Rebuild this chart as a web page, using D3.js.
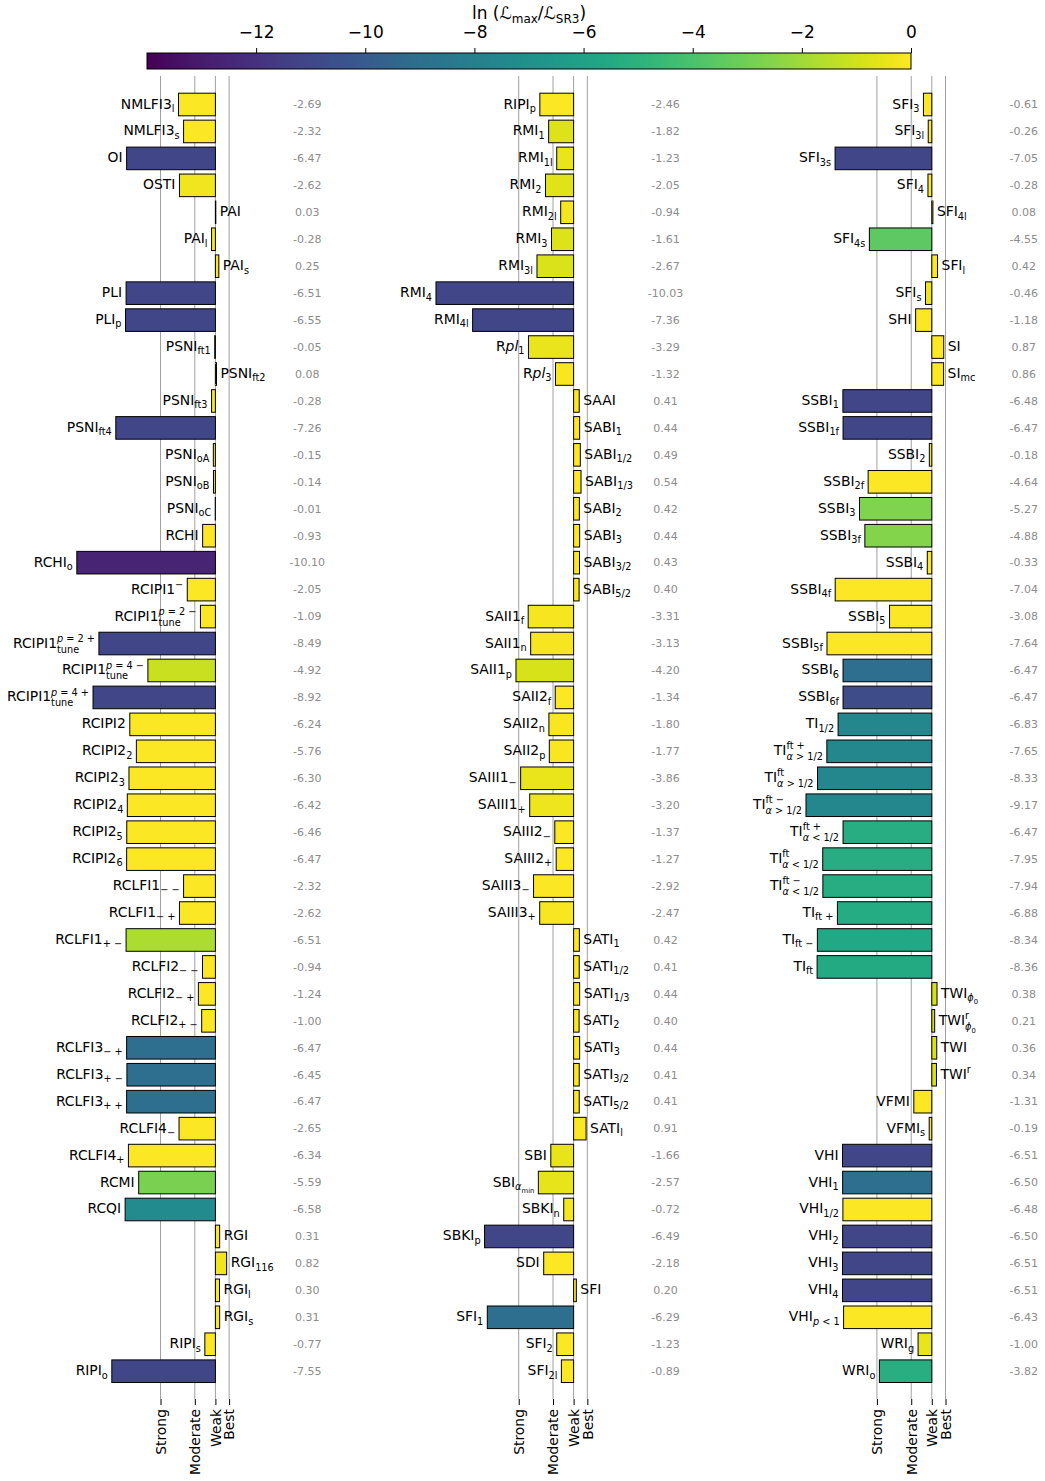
<!DOCTYPE html>
<html lang="en">
<head>
<meta charset="utf-8">
<script src="https://d3js.org/d3.v7.min.js"></script>
<style>
  body { margin: 0; background: #fff; }
  text { font-family: "DejaVu Sans", sans-serif; white-space: pre; }
</style>
</head>
<body>
<script>
// label markup: base_sub^sup, *...* = italic, ~ = smaller sub-subscript
const names1 = ["NMLFI3_l", "NMLFI3_s", "OI", "OSTI", "PAI", "PAI_l", "PAI_s", "PLI", "PLI_p",
  "PSNI_ft1", "PSNI_ft2", "PSNI_ft3", "PSNI_ft4", "PSNI_oA", "PSNI_oB", "PSNI_oC", "RCHI", "RCHI_o",
  "RCIPI1^−", "RCIPI1_tune^*p* = 2 −", "RCIPI1_tune^*p* = 2 +", "RCIPI1_tune^*p* = 4 −", "RCIPI1_tune^*p* = 4 +",
  "RCIPI2", "RCIPI2_2", "RCIPI2_3", "RCIPI2_4", "RCIPI2_5", "RCIPI2_6",
  "RCLFI1_− −", "RCLFI1_− +", "RCLFI1_+ −", "RCLFI2_− −", "RCLFI2_− +", "RCLFI2_+ −",
  "RCLFI3_− +", "RCLFI3_+ −", "RCLFI3_+ +", "RCLFI4_−", "RCLFI4_+", "RCMI", "RCQI",
  "RGI", "RGI_116", "RGI_l", "RGI_s", "RIPI_s", "RIPI_o"];
const values1 = [-2.69, -2.32, -6.47, -2.62, 0.03, -0.28, 0.25, -6.51, -6.55,
  -0.05, 0.08, -0.28, -7.26, -0.15, -0.14, -0.01, -0.93, -10.10,
  -2.05, -1.09, -8.49, -4.92, -8.92,
  -6.24, -5.76, -6.30, -6.42, -6.46, -6.47,
  -2.32, -2.62, -6.51, -0.94, -1.24, -1.00,
  -6.47, -6.45, -6.47, -2.65, -6.34, -5.59, -6.58,
  0.31, 0.82, 0.30, 0.31, -0.77, -7.55];
const lnL1 = [-0.1, -0.1, -11.1, -0.3, -0.1, -0.1, -0.1, -11.1, -11.1,
  -0.1, -0.1, -0.1, -11.1, -0.1, -0.1, -0.1, -0.1, -12.6,
  -0.1, -0.1, -11.1, -1.15, -11.1,
  -0.1, -0.1, -0.1, -0.1, -0.1, -0.1,
  -0.1, -0.1, -1.7, -0.1, -0.1, -0.1,
  -9.0, -9.0, -9.0, -0.1, -0.1, -2.8, -7.3,
  -0.1, -0.3, -0.1, -0.1, -0.1, -11.1];

const names2 = ["RIPI_p", "RMI_1", "RMI_1l", "RMI_2", "RMI_2l", "RMI_3", "RMI_3l", "RMI_4", "RMI_4l",
  "R*pl*_1", "R*pl*_3", "SAAI", "SABI_1", "SABI_1/2", "SABI_1/3", "SABI_2", "SABI_3", "SABI_3/2", "SABI_5/2",
  "SAII1_f", "SAII1_n", "SAII1_p", "SAII2_f", "SAII2_n", "SAII2_p",
  "SAIII1_−", "SAIII1_+", "SAIII2_−", "SAIII2_+", "SAIII3_−", "SAIII3_+",
  "SATI_1", "SATI_1/2", "SATI_1/3", "SATI_2", "SATI_3", "SATI_3/2", "SATI_5/2", "SATI_l",
  "SBI", "SBI_*α*~min", "SBKI_n", "SBKI_p", "SDI", "SFI", "SFI_1", "SFI_2", "SFI_2l"];
const values2 = [-2.46, -1.82, -1.23, -2.05, -0.94, -1.61, -2.67, -10.03, -7.36,
  -3.29, -1.32, 0.41, 0.44, 0.49, 0.54, 0.42, 0.44, 0.43, 0.40,
  -3.31, -3.13, -4.20, -1.34, -1.80, -1.77,
  -3.86, -3.20, -1.37, -1.27, -2.92, -2.47,
  0.42, 0.41, 0.44, 0.40, 0.44, 0.41, 0.41, 0.91,
  -1.66, -2.57, -0.72, -6.49, -2.18, 0.20, -6.29, -1.23, -0.89];
const lnL2 = [-0.1, -0.75, -0.45, -0.7, -0.2, -0.75, -0.8, -11.1, -11.1,
  -0.45, -0.15, -0.1, -0.1, -0.1, -0.1, -0.1, -0.1, -0.1, -0.1,
  -0.2, -0.2, -0.85, -0.1, -0.15, -0.15,
  -0.45, -0.35, -0.1, -0.1, -0.1, -0.15,
  -0.1, -0.1, -0.1, -0.1, -0.1, -0.1, -0.1, -0.1,
  -0.5, -0.5, -0.2, -11.1, -0.1, -0.1, -9.0, -0.1, -0.1];

const names3 = ["SFI_3", "SFI_3l", "SFI_3s", "SFI_4", "SFI_4l", "SFI_4s", "SFI_l", "SFI_s", "SHI", "SI", "SI_mc",
  "SSBI_1", "SSBI_1f", "SSBI_2", "SSBI_2f", "SSBI_3", "SSBI_3f", "SSBI_4", "SSBI_4f", "SSBI_5", "SSBI_5f", "SSBI_6", "SSBI_6f",
  "TI_1/2", "TI_*α* > 1/2^ft +", "TI_*α* > 1/2^ft", "TI_*α* > 1/2^ft −",
  "TI_*α* < 1/2^ft +", "TI_*α* < 1/2^ft", "TI_*α* < 1/2^ft −", "TI_ft +", "TI_ft −", "TI_ft",
  "TWI_*ϕ*~0", "TWI_*ϕ*~0^r", "TWI", "TWI^r", "VFMI", "VFMI_s",
  "VHI", "VHI_1", "VHI_1/2", "VHI_2", "VHI_3", "VHI_4", "VHI_*p* < 1", "WRI_g", "WRI_o"];
const values3 = [-0.61, -0.26, -7.05, -0.28, 0.08, -4.55, 0.42, -0.46, -1.18, 0.87, 0.86,
  -6.48, -6.47, -0.18, -4.64, -5.27, -4.88, -0.33, -7.04, -3.08, -7.64, -6.47, -6.47,
  -6.83, -7.65, -8.33, -9.17,
  -6.47, -7.95, -7.94, -6.88, -8.34, -8.36,
  0.38, 0.21, 0.36, 0.34, -1.31, -0.19,
  -6.51, -6.50, -6.48, -6.50, -6.51, -6.51, -6.43, -1.00, -3.82];
const lnL3 = [-0.1, -0.1, -11.1, -0.1, -0.1, -3.5, -0.1, -0.4, -0.1, -0.1, -0.1,
  -11.1, -11.1, -0.1, -0.1, -2.7, -2.6, -0.1, -0.1, -0.1, -0.1, -9.0, -10.8,
  -7.5, -7.5, -7.5, -7.5,
  -5.3, -5.3, -5.3, -5.4, -5.6, -5.5,
  -0.85, -1.0, -0.9, -0.85, -0.1, -0.1,
  -11.1, -9.0, -0.1, -11.1, -11.1, -11.1, -0.1, -0.45, -5.2];

const colourTicks = [-12, -10, -8, -6, -4, -2, 0];
const evidenceTicks = [-4, -1.5, 0, 1];
const evidenceLabels = ["Strong", "Moderate", "Weak", "Best"];

const W = 1045, H = 1481;
const svg = d3.select("body").append("svg").attr("width", W).attr("height", H);

const colour = d3.scaleSequential(d3.interpolateViridis).domain([-14, 0]);
const rowY = d3.scalePoint().domain(d3.range(48)).range([104.5, 1371.2]);
const barH = 22.6;
const fs = 13.9;

// rich text: *..* italic, text after ~ is a smaller lowered index
function rich(t, str, size) {
  const parts = str.split("~");
  parts[0].split("*").forEach((seg, k) => {
    if (seg) t.append("tspan").attr("font-style", k % 2 ? "italic" : "normal").text(seg);
  });
  if (parts[1]) t.append("tspan").attr("font-size", size * 0.7).attr("dy", size * 0.3).text(parts[1]);
}

function addLabel(g, spec, size) {
  const m = spec.match(/^([^_^]*)(?:_([^^]*))?(?:\^(.*))?$/);
  const base = g.append("text").attr("font-size", size);
  rich(base, m[1], size);
  const wb = base.node().getComputedTextLength();
  let w = wb;
  const small = size * 0.7;
  const both = m[2] && m[3];
  if (m[2]) {
    const t = g.append("text").attr("x", wb).attr("y", both ? size * 0.36 : size * 0.24).attr("font-size", small);
    rich(t, m[2], small);
    w = Math.max(w, wb + t.node().getComputedTextLength());
  }
  if (m[3]) {
    const t = g.append("text").attr("x", wb).attr("y", -size * 0.42).attr("font-size", small);
    rich(t, m[3], small);
    w = Math.max(w, wb + t.node().getComputedTextLength());
  }
  return w;
}

// colour bar
const cx = d3.scaleLinear().domain([-14, 0]).range([147, 911]);
const grad = svg.append("defs").append("linearGradient").attr("id", "viridis");
grad.selectAll("stop").data(d3.range(0, 1.0001, 0.02)).join("stop")
  .attr("offset", d => d).attr("stop-color", d => d3.interpolateViridis(d));
svg.append("rect").attr("x", cx(-14)).attr("y", 53).attr("width", cx(0) - cx(-14)).attr("height", 16)
  .attr("fill", "url(#viridis)").attr("stroke", "#000").attr("stroke-width", 1);
const cax = svg.append("g").attr("transform", "translate(0,53)")
  .call(d3.axisTop(cx).tickValues(colourTicks).tickSize(5).tickPadding(10));
cax.select(".domain").remove();
cax.selectAll("text").attr("font-size", 17).attr("font-family", "DejaVu Sans").attr("fill", "#000");
cax.selectAll("line").attr("stroke", "#000");

const title = svg.append("text").attr("x", 529).attr("y", 19).attr("text-anchor", "middle").attr("font-size", 17);
title.append("tspan").text("ln (");
title.append("tspan").attr("font-style", "italic").text("ℒ");
title.append("tspan").attr("font-size", 12).attr("dy", 4).text("max");
title.append("tspan").attr("dy", -4).text("/");
title.append("tspan").attr("font-style", "italic").text("ℒ");
title.append("tspan").attr("font-size", 12).attr("dy", 4).text("SR3");
title.append("tspan").attr("dy", -4).text(")");

function drawPanel(names, vals, lnL, zero) {
  const x = d3.scaleLinear().domain([-10, 5]).range([zero - 137.2, zero + 68.6]);
  const rows = names.map((n, i) => ({ n, v: vals[i], c: lnL[i], i }));
  const g = svg.append("g");

  g.selectAll("line.guide").data(evidenceTicks).join("line").attr("class", "guide")
    .attr("x1", d => x(d)).attr("x2", d => x(d)).attr("y1", 76).attr("y2", 1399)
    .attr("stroke", "#a0a0a0").attr("stroke-width", 1);

  const ax = g.append("g").attr("transform", "translate(0,1399)")
    .call(d3.axisBottom(x).tickValues(evidenceTicks).tickFormat((d, i) => evidenceLabels[i]).tickSize(6));
  ax.select(".domain").remove();
  ax.selectAll("line").attr("stroke", "#000");
  ax.selectAll("text").attr("font-size", fs).attr("font-family", "DejaVu Sans").attr("fill", "#000")
    .attr("text-anchor", "end").attr("transform", "rotate(-90)")
    .attr("x", -10).attr("y", 0).attr("dy", "0.35em");

  g.selectAll("rect.bar").data(rows).join("rect").attr("class", "bar")
    .attr("x", d => x(Math.min(0, d.v)))
    .attr("width", d => Math.abs(x(d.v) - x(0)))
    .attr("y", d => rowY(d.i) - barH / 2)
    .attr("height", barH)
    .attr("fill", d => colour(d.c))
    .attr("stroke", "#000").attr("stroke-width", 1);

  rows.forEach(d => {
    const lg = g.append("g");
    const w = addLabel(lg, d.n, fs);
    const lx = d.v < 0 ? x(d.v) - 4 - w : x(d.v) + 4;
    lg.attr("transform", `translate(${lx},${rowY(d.i) + 4})`);
  });

  g.selectAll("text.val").data(rows).join("text").attr("class", "val")
    .attr("x", x(6.7)).attr("y", d => rowY(d.i) + 3.8)
    .attr("text-anchor", "middle").attr("font-size", 11).attr("fill", "#8c8c8c")
    .text(d => d.v.toFixed(2));
}

drawPanel(names1, values1, lnL1, 215.4);
drawPanel(names2, values2, lnL2, 573.6);
drawPanel(names3, values3, lnL3, 931.8);
</script>
</body>
</html>
